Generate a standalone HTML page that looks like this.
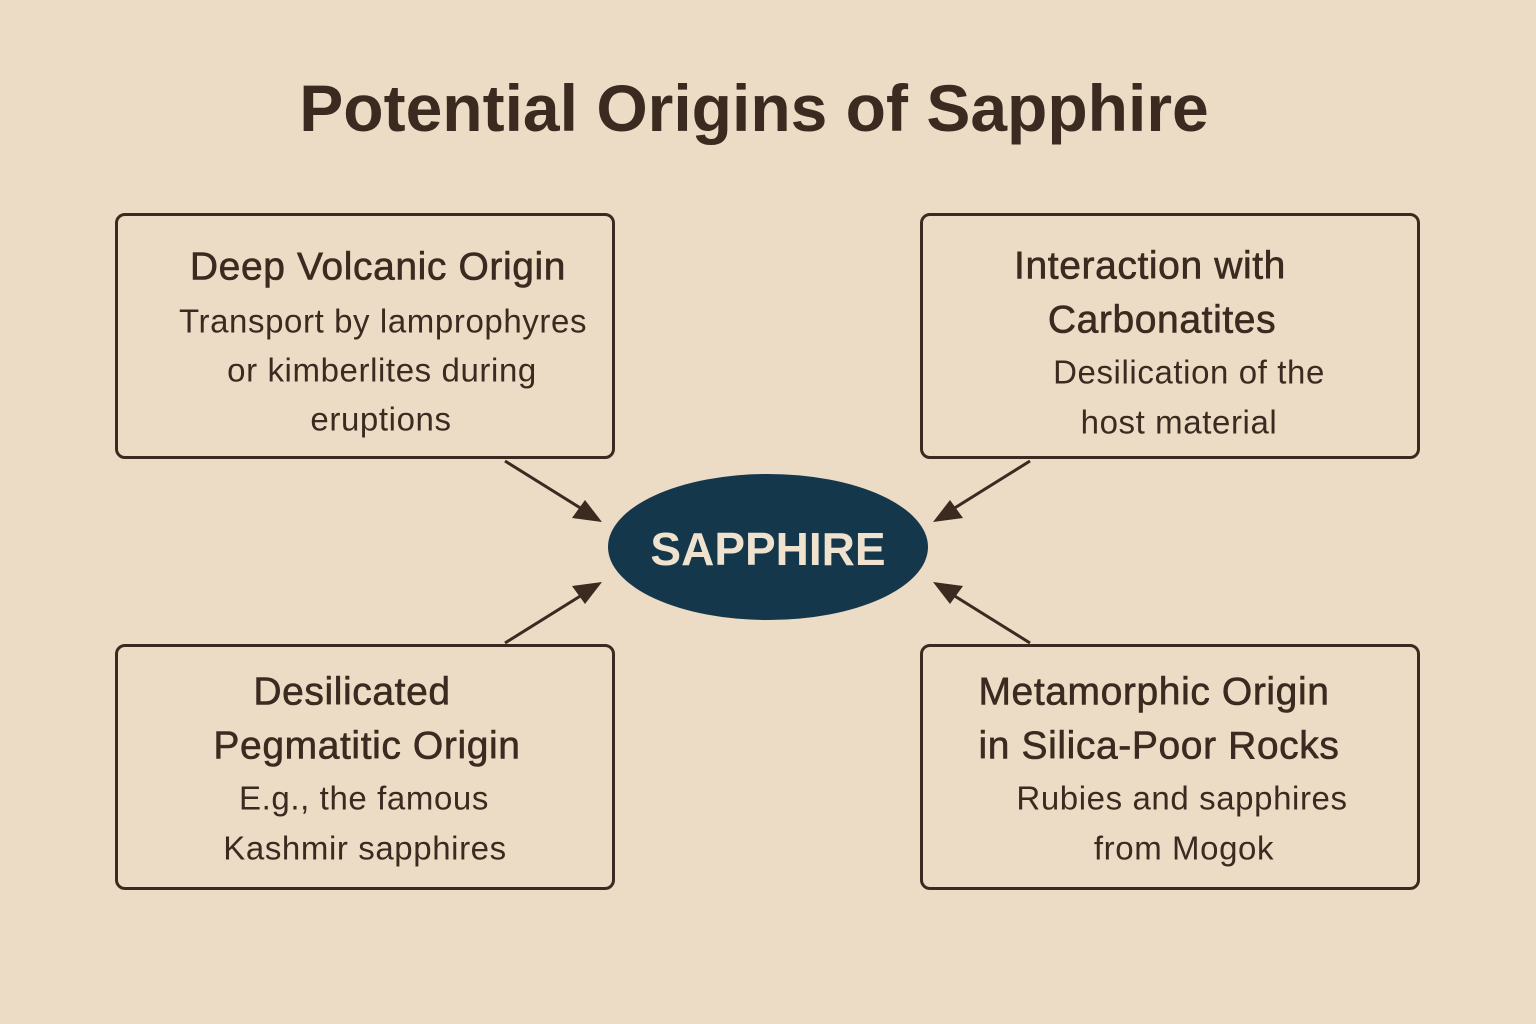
<!DOCTYPE html>
<html><head><meta charset="utf-8"><style>
body{margin:0;width:1536px;height:1024px;background:#ecdcc5;position:relative;overflow:hidden;font-family:"Liberation Sans",sans-serif;color:#3a2a20}
.t{position:absolute;white-space:nowrap;transform:translate(-50%,-50%);line-height:1}
.h{font-size:39px;letter-spacing:0.6px;-webkit-text-stroke:0.6px #3a2a20}
.b{font-size:33px;letter-spacing:0.6px}
.box{position:absolute;border:3px solid #3a2a20;border-radius:10px;box-sizing:border-box;width:500px;height:246px}
</style></head><body>
<div class="t" style="left:754px;top:108px;font-size:66px;font-weight:bold;color:#3a2a20">Potential Origins of Sapphire</div>
<div class="box" style="left:115px;top:213px"></div>
<div class="box" style="left:920px;top:213px"></div>
<div class="box" style="left:115px;top:644px"></div>
<div class="box" style="left:920px;top:644px"></div>
<svg width="1536" height="1024" style="position:absolute;left:0;top:0">
<g stroke="#3a2a20" stroke-width="3">
<line x1="505" y1="461" x2="598" y2="519"/>
<line x1="1030" y1="461" x2="937" y2="519"/>
<line x1="505" y1="643" x2="598" y2="585"/>
<line x1="1030" y1="643" x2="937" y2="585"/>
</g>
<g fill="#3a2a20">
<path d="M602,522 L572,518 L585,500z"/>
<path d="M933,522 L963,518 L950,500z"/>
<path d="M602,582 L572,586 L585,604z"/>
<path d="M933,582 L963,586 L950,604z"/>
</g>
<ellipse cx="768" cy="547" rx="160" ry="73" fill="#14374c"/>
</svg>
<div class="t" style="left:768px;top:549px;font-size:46px;font-weight:bold;color:#efe3cf">SAPPHIRE</div>

<div class="t h" style="left:378px;top:267px">Deep Volcanic Origin</div>
<div class="t b" style="left:383px;top:321px">Transport by lamprophyres</div>
<div class="t b" style="left:382px;top:370px">or kimberlites during</div>
<div class="t b" style="left:381px;top:419px">eruptions</div>

<div class="t h" style="left:1150px;top:266px">Interaction with</div>
<div class="t h" style="left:1162px;top:320px">Carbonatites</div>
<div class="t b" style="left:1189px;top:372px">Desilication of the</div>
<div class="t b" style="left:1179px;top:422px">host material</div>

<div class="t h" style="left:352px;top:692px">Desilicated</div>
<div class="t h" style="left:367px;top:746px">Pegmatitic Origin</div>
<div class="t b" style="left:364px;top:798px">E.g., the famous</div>
<div class="t b" style="left:365px;top:848px">Kashmir sapphires</div>

<div class="t h" style="left:1154px;top:692px">Metamorphic Origin</div>
<div class="t h" style="left:1159px;top:746px">in Silica-Poor Rocks</div>
<div class="t b" style="left:1182px;top:798px">Rubies and sapphires</div>
<div class="t b" style="left:1184px;top:848px">from Mogok</div>
</body></html>
